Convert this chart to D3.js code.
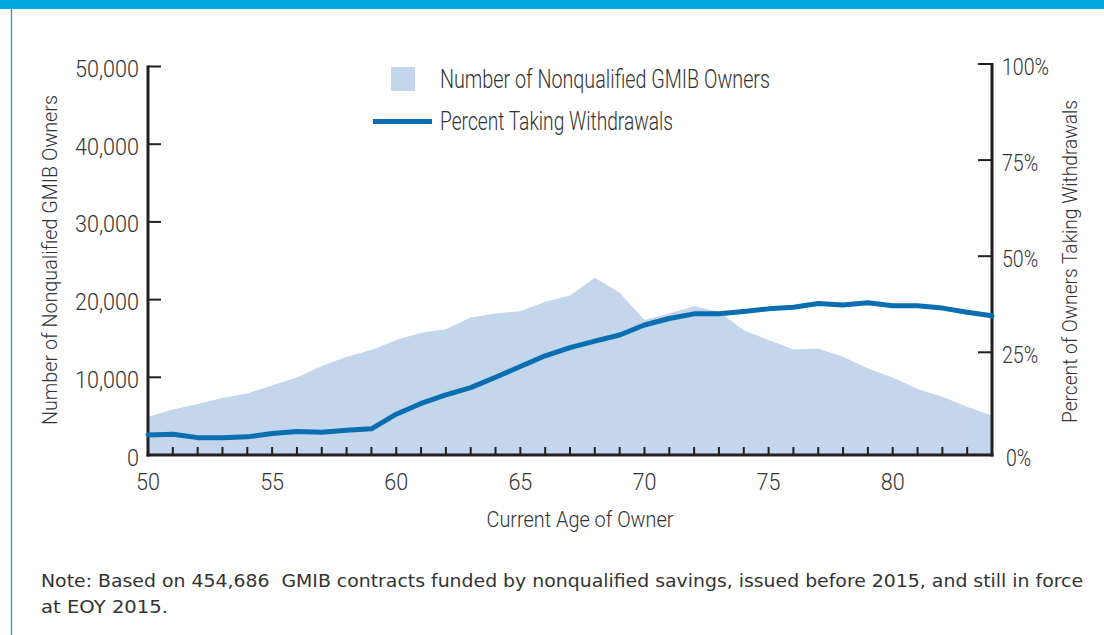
<!DOCTYPE html>
<html>
<head>
<meta charset="utf-8">
<script src="https://cdn.jsdelivr.net/npm/d3@7/dist/d3.min.js"></script>
<style>
  html, body { margin: 0; padding: 0; background: #ffffff; }
  svg { display: block; }
  text { fill: #333333; }
</style>
</head>
<body>
<svg id="chart" width="1104" height="635"></svg>
<script>
// Current age of owner (x categories)
const ages = [50, 51, 52, 53, 54, 55, 56, 57, 58, 59, 60, 61, 62, 63, 64, 65, 66, 67,
              68, 69, 70, 71, 72, 73, 74, 75, 76, 77, 78, 79, 80, 81, 82, 83, 84];

// Number of nonqualified GMIB owners at each age
const owners = [4900, 5870, 6560, 7330, 7930, 8960, 9990, 11440, 12640, 13500, 14790,
                15730, 16200, 17700, 18220, 18510, 19710, 20530, 22800, 20870, 17360,
                18200, 19160, 18430, 16070, 14790, 13590, 13720, 12640, 11140, 9990,
                8490, 7500, 6210, 5050];

// Percent of owners taking withdrawals at each age
const pctWithdrawing = [3.5, 3.7, 2.8, 2.8, 3.0, 3.9, 4.4, 4.2, 4.7, 5.1, 8.9, 11.7, 13.9,
                        15.8, 18.5, 21.3, 24.1, 26.2, 27.9, 29.5, 32.1, 33.8, 35.0, 35.0,
                        35.6, 36.3, 36.7, 37.7, 37.3, 37.9, 37.1, 37.1, 36.5, 35.4, 34.5];

// Axis ticks
const xTickLabels = [50, 55, 60, 65, 70, 75, 80];
const xMinorTicks = [51, 52, 53, 54, 55, 56, 57, 58, 59, 60, 61, 62, 63, 64, 65, 66, 67,
                     68, 69, 70, 71, 72, 73, 74, 75, 76, 77, 78, 79, 80, 81, 82, 83];
const leftTicks = [0, 10000, 20000, 30000, 40000, 50000];
const rightTicks = [0, 25, 50, 75, 100];

const legendLabels = ["Number of Nonqualified GMIB Owners", "Percent Taking Withdrawals"];
const xTitle = "Current Age of Owner";
const leftTitle = "Number of Nonqualified GMIB Owners";
const rightTitle = "Percent of Owners Taking Withdrawals";
const noteLines = [
  "Note: Based on 454,686  GMIB contracts funded by nonqualified savings, issued before 2015, and still in force",
  "at EOY 2015."
];

const rows = ages.map((a, i) => ({ age: a, owners: owners[i], pct: pctWithdrawing[i] }));

const AREA = "#c3d6eb", LINE = "#0a6eb0", INK = "#231f20", FRAME = "#00a6dd";
const FONT = "Roboto, 'Liberation Sans', Arial, sans-serif";
const WEIGHT = 300;

const svg = d3.select("#chart");

// page frame: top band and thin left rule
svg.append("rect").attr("x", 0).attr("y", 0).attr("width", 1104).attr("height", 9).attr("fill", FRAME);
svg.append("line").attr("x1", 11.5).attr("x2", 11.5).attr("y1", 9).attr("y2", 635)
   .attr("stroke", FRAME).attr("stroke-width", 1.3);

const plot = { left: 148, right: 992, top: 66.5, bottom: 455 };

const x = d3.scaleLinear().domain([50, 84]).range([plot.left, plot.right]);
const yL = d3.scaleLinear().domain([0, 50000]).range([plot.bottom, plot.top]);
const yR = d3.scaleLinear().domain([0, 100]).range([448.4, 64]);

// squeeze text horizontally to a condensed look
function condense(sel, k) {
  sel.each(function () {
    const n = this.getComputedTextLength();
    d3.select(this).attr("textLength", n * k).attr("lengthAdjust", "spacingAndGlyphs");
  });
}
function fitTo(sel, w) {
  sel.attr("textLength", w).attr("lengthAdjust", "spacingAndGlyphs");
}
function measure(str, size) {
  const t = svg.append("text").attr("font-family", FONT).attr("font-weight", WEIGHT)
    .attr("font-size", size).text(str);
  const w = t.node().getComputedTextLength();
  t.remove();
  return w;
}
const kNum = 64 / measure("50,000", 24);
const kPct = 47 / measure("100%", 24);

function label(sel, size) {
  return sel.attr("font-family", FONT).attr("font-weight", WEIGHT).attr("font-size", size);
}

// owners area
svg.append("path").datum(rows)
  .attr("fill", AREA)
  .attr("d", d3.area().x(d => x(d.age)).y0(yL(0)).y1(d => yL(d.owners)));

// left axis
const gL = svg.append("g");
gL.append("line").attr("x1", plot.left).attr("x2", plot.left)
  .attr("y1", yL(50000) - 1).attr("y2", plot.bottom + 1.5)
  .attr("stroke", INK).attr("stroke-width", 3);
gL.selectAll("line.tick").data(leftTicks.filter(v => v > 0)).join("line")
  .attr("class", "tick")
  .attr("x1", plot.left).attr("x2", plot.left + 13)
  .attr("y1", d => yL(d)).attr("y2", d => yL(d))
  .attr("stroke", INK).attr("stroke-width", 2);
gL.selectAll("text").data(leftTicks).join("text")
  .attr("x", 139).attr("y", d => yL(d) + 10.5)
  .attr("text-anchor", "end")
  .call(label, 24)
  .text(d => d3.format(",")(d))
  .call(condense, kNum);

// right axis
const gR = svg.append("g");
gR.append("line").attr("x1", plot.right).attr("x2", plot.right)
  .attr("y1", yR(100) - 1).attr("y2", plot.bottom + 1.5)
  .attr("stroke", INK).attr("stroke-width", 3);
gR.selectAll("line.tick").data(rightTicks.filter(v => v > 0)).join("line")
  .attr("class", "tick")
  .attr("x1", plot.right - 14).attr("x2", plot.right)
  .attr("y1", d => yR(d)).attr("y2", d => yR(d))
  .attr("stroke", INK).attr("stroke-width", 2);
gR.selectAll("text").data(rightTicks).join("text")
  .attr("x", d => d === 0 ? 1006 : 1002)
  .attr("y", d => (d === 0 ? yL(0) : yR(d)) + 10.5)
  .call(label, 24)
  .text(d => d + "%")
  .call(condense, kPct);

// bottom axis
const gB = svg.append("g");
gB.selectAll("line.tick").data(xMinorTicks).join("line")
  .attr("class", "tick")
  .attr("x1", d => x(d)).attr("x2", d => x(d))
  .attr("y1", plot.bottom - 8).attr("y2", plot.bottom)
  .attr("stroke", INK).attr("stroke-width", 2);
gB.append("line").attr("x1", plot.left - 1.5).attr("x2", plot.right + 1.5)
  .attr("y1", plot.bottom).attr("y2", plot.bottom)
  .attr("stroke", INK).attr("stroke-width", 3);
gB.selectAll("text").data(xTickLabels).join("text")
  .attr("x", d => x(d)).attr("y", 490)
  .attr("text-anchor", "middle")
  .call(label, 24)
  .text(d => d)
  .call(condense, kNum);

// withdrawal percentage line
svg.append("path").datum(rows)
  .attr("fill", "none").attr("stroke", LINE).attr("stroke-width", 5)
  .attr("stroke-linejoin", "round").attr("stroke-linecap", "round")
  .attr("d", d3.line().x(d => x(d.age)).y(d => yR(d.pct)));

// axis titles
svg.append("text").attr("x", (plot.left + plot.right) / 2 + 10).attr("y", 527)
  .attr("text-anchor", "middle").call(label, 22)
  .text(xTitle).call(fitTo, 187);
svg.append("text").attr("transform", "translate(57," + 260 + ") rotate(-90)")
  .attr("text-anchor", "middle").call(label, 21)
  .text(leftTitle).call(fitTo, 330);
svg.append("text").attr("transform", "translate(1077," + 261.5 + ") rotate(-90)")
  .attr("text-anchor", "middle").call(label, 21)
  .text(rightTitle).call(fitTo, 323);

// legend
const lg = svg.append("g");
lg.append("rect").attr("x", 391).attr("y", 67).attr("width", 24).attr("height", 24).attr("fill", AREA);
lg.append("line").attr("x1", 373).attr("x2", 432).attr("y1", 121.5).attr("y2", 121.5)
  .attr("stroke", LINE).attr("stroke-width", 5);
lg.append("text").attr("x", 440).attr("y", 88).call(label, 25)
  .text(legendLabels[0]).call(fitTo, 330);
lg.append("text").attr("x", 440).attr("y", 130).call(label, 25)
  .text(legendLabels[1]).call(fitTo, 233);

// footnote
svg.selectAll("text.note").data(noteLines).join("text")
  .attr("class", "note")
  .attr("x", 41).attr("y", (d, i) => 587 + i * 26)
  .attr("font-family", "'DejaVu Sans', sans-serif").attr("font-size", 17.5)
  .style("white-space", "pre")
  .text(d => d)
  .each(function (d, i) { d3.select(this).call(fitTo, i === 0 ? 1042 : 127); });
</script>
</body>
</html>
